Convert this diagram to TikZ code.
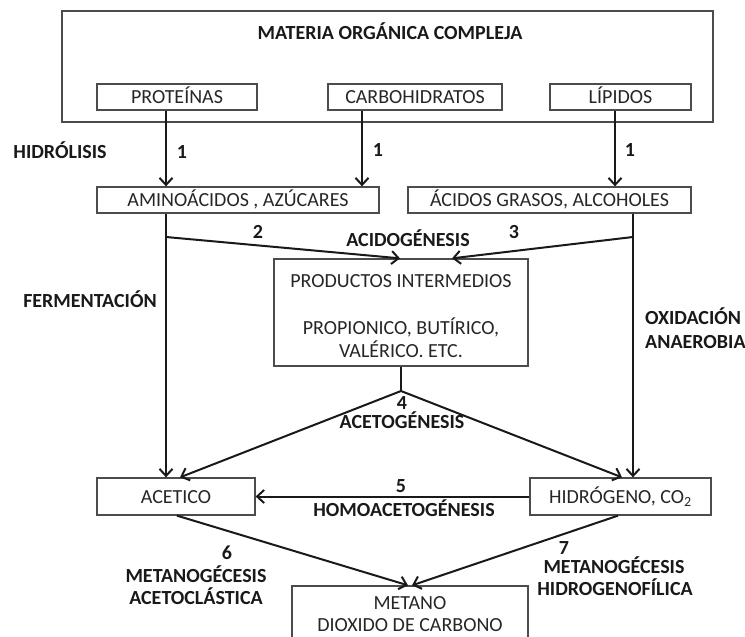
\documentclass[tikz,border=0pt]{standalone}
\usepackage{fontspec}
\setmainfont{Carlito}
\usetikzlibrary{arrows.meta}
\tikzset{>={Straight Barb[length=7pt,width=13pt]}}
\tikzset{caja/.style={draw=black!70, line width=1.3pt, inner sep=0pt, text=black!85,
  font=\fontsize{20}{24}\selectfont}}
\tikzset{cajatxt/.style={caja, text height=13pt, text depth=0pt}}
\tikzset{texto/.style={inner sep=0pt, text=black!85, align=center, font=\fontsize{20}{23}\selectfont}}
\tikzset{etiq/.style={inner sep=0pt, text height=13pt, text depth=0pt, text=black!90,
  font=\fontsize{20}{22}\selectfont\bfseries}}
\tikzset{flecha/.style={line width=2pt, black!90}}

\begin{document}
\begin{tikzpicture}[x=1pt,y=-1pt]
\useasboundingbox (0,0) rectangle (745,637);
% materia organica
\node[caja, minimum width=651, minimum height=111] (materia) at (387.5,66.5) {};
\node[etiq] (titulo) at (390,33) {MATERIA ORGÁNICA COMPLEJA};
\node[cajatxt, minimum width=160, minimum height=26] (prot) at (177,97) {PROTEÍNAS};
\node[cajatxt, minimum width=174, minimum height=26] (carb) at (415,97) {CARBOHIDRATOS};
\node[cajatxt, minimum width=141, minimum height=26] (lip) at (620.5,97) {LÍPIDOS};
% hidrolisis
\node[cajatxt, minimum width=282, minimum height=26] (amino) at (238,200) {AMINOÁCIDOS , AZÚCARES};
\node[cajatxt, minimum width=283, minimum height=26] (acidos) at (549.5,200) {ÁCIDOS GRASOS, ALCOHOLES};
\node[etiq] (hidrol) at (60,152) {HIDRÓLISIS};
\draw[flecha,->] ([xshift=-11]prot.south) -- ([xshift=-11]prot.south |- amino.north);
\draw[flecha,->] ([xshift=-53]carb.south) -- ([xshift=-53]carb.south |- amino.north);
\draw[flecha,->] ([xshift=-5.5]lip.south) -- ([xshift=-5.5]lip.south |- acidos.north);
\node[etiq] (uno1) at (182,152) {1};
\node[etiq] (uno2) at (378,150) {1};
\node[etiq] (uno3) at (630,150) {1};
% acidogenesis
\node[caja, minimum width=254, minimum height=107] (prod) at (401,312.5) {};
\node[texto, anchor=north] (prodtxt) at (401,274.5) {PRODUCTOS INTERMEDIOS\\[24pt]
  PROPIONICO, BUTÍRICO,\\VALÉRICO. ETC.};
\coordinate (j2) at (166,237);
\coordinate (j3) at (633,237);
\draw[flecha] (amino.south -| j2) -- (j2);
\draw[flecha] (acidos.south -| j3) -- (j3);
\draw[flecha,->] (j2) -- ([xshift=-1]prod.north);
\draw[flecha,->] (j3) -- ([xshift=51]prod.north);
\node[etiq] (dos) at (258,232) {2};
\node[etiq] (tres) at (514,232) {3};
\node[etiq] (acidog) at (408,240) {ACIDOGÉNESIS};
\node[etiq] (ferm) at (90,301) {FERMENTACIÓN};
\node[etiq, anchor=west] (oxid) at (645,318) {OXIDACIÓN};
\node[etiq, anchor=west] (anaer) at (645,342) {ANAEROBIA};
% acetogenesis
\node[cajatxt, minimum width=158, minimum height=37] (acet) at (176,496.5) {ACETICO};
\node[cajatxt, minimum width=181, minimum height=37] (hidro) at (620.5,496.5) {HIDRÓGENO, CO\textsubscript{2}};
\draw[flecha,->] (j2) -- (acet.north -| j2);
\draw[flecha,->] (j3) -- (hidro.north -| j3);
\coordinate (j4) at (401,391);
\draw[flecha] (prod.south) -- (j4);
\draw[flecha,->] (j4) -- ([xshift=4]acet.north);
\draw[flecha,->] (j4) -- ([xshift=1.5]hidro.north);
\node[etiq] (cuatro) at (402,403) {4};
\node[etiq] (acetog) at (402,422) {ACETOGÉNESIS};
% homoacetogenesis
\draw[flecha,->] (hidro.west) -- (acet.east);
\node[etiq] (cinco) at (401,486) {5};
\node[etiq] (homo) at (404,510) {HOMOACETOGÉNESIS};
% metanogenesis
\node[caja, minimum width=236, minimum height=60] (met) at (410,616) {};
\node[texto, anchor=north, font=\fontsize{20}{22}\selectfont] (mettxt) at (410,596.5) {METANO\\DIOXIDO DE CARBONO};
\draw[flecha,->] ([xshift=1]acet.south) -- ([xshift=-2]met.north);
\draw[flecha,->] ([xshift=-2.5]hidro.south) -- ([xshift=2]met.north);
\node[etiq] (seis) at (227,553) {6};
\node[etiq] (met6a) at (196,576) {METANOGÉCESIS};
\node[etiq] (met6b) at (196,598) {ACETOCLÁSTICA};
\node[etiq] (siete) at (564,548) {7};
\node[etiq] (met7a) at (614,567) {METANOGÉCESIS};
\node[etiq] (met7b) at (615,589) {HIDROGENOFÍLICA};
\end{tikzpicture}
\end{document}
